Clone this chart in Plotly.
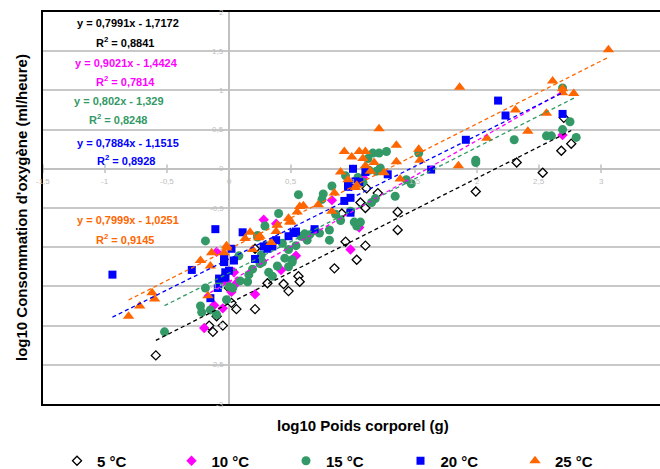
import plotly.graph_objects as go

# ---------------- data ----------------
series_names = ["5 °C", "10 °C", "15 °C", "20 °C", "25 °C"]

x5 = [-0.59, -0.16, -0.13, -0.10, -0.05, 0.00, 0.02, 0.06, 0.21, 0.21, 0.31, 0.44, 0.48, 0.56, 0.57,
      0.85, 0.91, 0.94, 1.03, 1.06, 1.10, 1.10, 1.11, 1.20, 1.36, 1.36, 1.99, 2.32, 2.53, 2.68, 2.70, 2.76]
y5 = [-2.38, -2.00, -2.08, -1.88, -2.00, -1.52, -1.71, -1.79, -1.79, -1.02, -1.46, -1.47, -1.56, -1.37, -1.44,
      -1.27, -0.57, -0.93, -1.16, -0.43, -0.98, -0.50, -0.25, -0.31, -0.55, -0.78, -0.29, 0.08, -0.05, 0.23, 0.65, 0.32]

x10 = [-0.20, -0.12, -0.10, -0.05, -0.02, 0.02, 0.04, 0.06, 0.21, 0.28, 0.38, 0.42, 0.54, 0.83, 0.98, 0.99,
       1.05, 1.08, 2.69]
y10 = [-2.03, -1.74, -1.06, -1.78, -1.44, -1.57, -1.32, -1.46, -1.60, -0.65, -0.70, -1.29, -1.11, -0.40, -1.03, -0.22,
       -0.75, -0.11, 0.43]

x15 = [-0.52, -0.19, -0.23, -0.22, -0.19, -0.15, -0.10, -0.08, -0.02, 0.00, 0.03, 0.08, 0.09, 0.15, 0.16, 0.19,
       0.23, 0.23, 0.25, 0.26, 0.27, 0.29, 0.30, 0.32, 0.35, 0.39, 0.40, 0.43, 0.45, 0.48, 0.48, 0.51, 0.51, 0.54,
       0.56, 0.58, 0.61, 0.63, 0.65, 0.69, 0.73, 0.76, 0.75, 0.81, 0.81, 0.83, 0.86, 0.90, 0.94, 0.98, 1.01, 1.03,
       1.04, 1.06, 1.08, 1.12, 1.13, 1.15, 1.16, 1.18, 1.19, 1.21, 1.22, 1.27, 1.34, 1.43, 1.47, 1.53, 1.99, 1.99,
       2.30, 2.56, 2.60, 2.69, 2.69, 2.75, 2.80]
y15 = [-2.08, -0.92, -1.75, -1.83, -1.52, -1.80, -1.86, -1.48, -1.67, -1.50, -1.52, -1.11, -1.43, -1.44, -1.35, -1.28,
       -0.85, -0.87, -1.21, -1.10, -1.19, -0.73, -0.98, -1.32, -1.37, -1.24, -0.57, -0.95, -1.14, -1.03, -1.25, -1.19, -1.16, -0.98,
       -0.33, -0.86, -0.83, -0.91, -0.84, -0.79, -0.82, -0.32, -0.39, -0.78, -0.91, -0.22, -0.58, -0.66, -0.09, -0.54, -0.68, -0.73,
       -0.11, -0.68, -0.17, 0.13, -0.02, -0.43, 0.20, -0.38, -0.03, 0.20, 0.01, 0.22, -0.35, -0.14, -0.19, 0.20, 0.11, 0.08,
       0.37, 0.42, 0.42, 0.50, 1.03, 0.60, 0.40]

x20 = [-0.94, -0.30, -0.15, -0.11, -0.09, -0.08, -0.04, -0.04, -0.03, -0.03, 0.00, 0.02, 0.04, 0.11, 0.21, 0.28,
       0.31, 0.35, 0.38, 0.48, 0.52, 0.54, 0.69, 0.93, 0.96, 0.96, 0.98, 0.98, 1.00, 1.02, 1.05, 1.10, 1.28, 1.63,
       1.91, 2.17, 2.23, 2.69]
y20 = [-1.35, -1.29, -1.65, -0.77, -1.52, -1.40, -1.15, -1.19, -1.32, -1.39, -1.30, -1.02, -1.17, -0.81, -1.15, -0.99,
       -1.02, -0.99, -0.91, -0.86, -0.82, -0.80, -0.77, -0.41, -0.21, -0.23, -0.56, -0.37, 0.00, -0.16, -0.17, -0.04, -0.07, -0.01,
       0.37, 0.87, 0.68, 0.70]

x25 = [-0.81, -0.72, -0.62, -0.60, -0.23, -0.17, -0.15, -0.14, -0.04, -0.02, -0.02, 0.13, 0.17, 0.19, 0.24, 0.25,
       0.34, 0.38, 0.39, 0.48, 0.49, 0.50, 0.55, 0.57, 0.60, 0.72, 0.83, 0.85, 0.90, 0.93, 0.96, 0.99, 1.02, 1.03,
       1.05, 1.08, 1.10, 1.10, 1.14, 1.17, 1.21, 1.25, 1.35, 1.35, 1.38, 1.53, 1.54, 1.85, 1.86, 2.08, 2.31, 2.41,
       2.56, 2.61, 2.69, 2.69, 2.78, 3.06]
y25 = [-1.88, -1.75, -1.58, -1.66, -1.17, -1.62, -1.24, -1.07, -1.07, -1.01, -0.98, -0.89, -0.81, -1.03, -0.88, -0.86,
       -0.94, -0.80, -0.72, -0.63, -0.68, -0.68, -0.55, -0.48, -0.47, -0.46, -0.54, -0.31, -0.04, 0.22, -0.14, 0.15, -0.24, -0.21,
       0.22, 0.13, 0.22, 0.04, -0.03, 0.08, 0.51, -0.05, 0.30, 0.09, -0.13, 0.25, 0.11, 0.04, 1.04, 0.39, 0.75, 0.48,
       0.71, 1.12, 1.02, 0.97, 0.96, 1.52]

slopes = [0.7991, 0.9021, 0.802, 0.7884, 0.7999]
intercepts = [-1.7172, -1.4424, -1.329, -1.1515, -1.0251]
r2_values = [0.8841, 0.7814, 0.8248, 0.8928, 0.9145]

x_ticks = [-1.5, -1, -0.5, 0, 0.5, 1, 1.5, 2, 2.5, 3]
y_ticks = [2, 1.5, 1, 0.5, 0, -0.5, -1, -1.5, -2, -2.5, -3]

x_title = "log10 Poids corporel (g)"
y_title = "log10 Consommation d'oxygène (ml/heure)"

# ---------------- styling ----------------
W, H = 660, 469
L, R, T, B = 43, 0, 12, 65
PW, PH = W - L - R, H - T - B
FONT = "Liberation Sans, Arial, sans-serif"
colors = ["#000000", "#FF00FF", "#339966", "#0000FF", "#FF6600"]
symbols = ["diamond", "diamond", "circle", "square", "triangle-up"]
sizes = [7, 8, 9, 8, 10]

xs = [x5, x10, x15, x20, x25]
ys = [y5, y10, y15, y20, y25]


def px_to_paper(px, py):
    return (px - L) / PW, (H - B - py) / PH


def fmt(v):
    return f"{v:g}".replace(".", ",")


fig = go.Figure()

# tick marks along the crossing axes
fig.add_trace(go.Scatter(x=x_ticks, y=[0] * len(x_ticks), mode="markers",
                         marker=dict(symbol="line-ns", size=6, line=dict(color="#c0c0c0", width=1.5)),
                         showlegend=False, hoverinfo="skip"))

for i in range(5):
    if i == 0:
        marker = dict(symbol=symbols[i], size=sizes[i], color="white",
                      line=dict(color="black", width=1.3))
    else:
        marker = dict(symbol=symbols[i], size=sizes[i], color=colors[i], line=dict(width=0))
    fig.add_trace(go.Scatter(x=xs[i], y=ys[i], mode="markers", name=f"<b>{series_names[i]}</b>",
                             marker=marker, cliponaxis=False))

for i in range(5):
    xmin, xmax = min(xs[i]), max(xs[i])
    fig.add_trace(go.Scatter(x=[xmin, xmax],
                             y=[slopes[i] * xmin + intercepts[i], slopes[i] * xmax + intercepts[i]],
                             mode="lines", line=dict(color=colors[i], width=1.3, dash="4px,3px"),
                             showlegend=False, hoverinfo="skip"))

annotations = []
# tick labels
for v in x_ticks:
    annotations.append(dict(x=v, y=0, xref="x", yref="y", text=fmt(v), showarrow=False,
                            xanchor="center", yanchor="middle",
                            yshift=-13, font=dict(family=FONT, size=8, color="#bdbdbd")))
for v in y_ticks:
    annotations.append(dict(x=0, y=v, xref="x", yref="y", text=fmt(v), showarrow=False,
                            xanchor="right", yanchor="middle", xshift=-3,
                            font=dict(family=FONT, size=8, color="#bdbdbd")))

# equations
eq_pos = [(128, 23, 125, 42), (127, 63, 125, 81), (119, 101, 118, 119), (128, 143, 126, 160), (128, 220, 125, 239)]
for i in range(5):
    ex, ey, rx, ry = eq_pos[i]
    sign = "-" if intercepts[i] < 0 else "+"
    t1 = f"<b>y = {fmt(slopes[i])}x {sign} {fmt(abs(intercepts[i]))}</b>"
    t2 = f"<b>R<sup>2</sup> = {fmt(r2_values[i])}</b>"
    a, b = px_to_paper(ex, ey)
    annotations.append(dict(x=a, y=b, xref="paper", yref="paper", text=t1, showarrow=False,
                            xanchor="center", yanchor="middle",
                            font=dict(family=FONT, size=11, color=colors[i])))
    a, b = px_to_paper(rx, ry)
    annotations.append(dict(x=a, y=b, xref="paper", yref="paper", text=t2, showarrow=False,
                            xanchor="center", yanchor="middle",
                            font=dict(family=FONT, size=11, color=colors[i])))

# axis titles
a, b = px_to_paper(363, 425)
annotations.append(dict(x=a, y=b, xref="paper", yref="paper", text=f"<b>{x_title}</b>", showarrow=False,
                        xanchor="center", yanchor="middle",
                        font=dict(family=FONT, size=15, color="black")))
a, b = px_to_paper(21, 208)
annotations.append(dict(x=a, y=b, xref="paper", yref="paper", text=f"<b>{y_title}</b>", showarrow=False,
                        xanchor="center", yanchor="middle",
                        textangle=-90, font=dict(family=FONT, size=15, color="black")))

lx, ly = px_to_paper(57, 461)

fig.update_layout(
    width=W, height=H,
    margin=dict(l=L, r=R, t=T, b=B, autoexpand=False),
    paper_bgcolor="white", plot_bgcolor="white",
    font=dict(family=FONT, color="black"),
    xaxis=dict(range=[-1.5, -1.5 + PW / 124.0], showgrid=False, zeroline=True, zerolinecolor="#c0c0c0",
               zerolinewidth=2, showticklabels=False, ticks="", showline=True, linecolor="black",
               linewidth=2, mirror=True),
    yaxis=dict(range=[-3, 2], tickvals=y_ticks, showgrid=True, gridcolor="#c8c8c8", gridwidth=2,
               zeroline=True, zerolinecolor="#c0c0c0", zerolinewidth=2, showticklabels=False, ticks="",
               showline=True, linecolor="black", linewidth=2, mirror=False),
    legend=dict(orientation="h", x=lx, y=ly, xanchor="left", yanchor="middle",
                entrywidth=69.5, entrywidthmode="pixels", font=dict(family=FONT, size=15, color="black"),
                bgcolor="rgba(0,0,0,0)", borderwidth=0, traceorder="normal"),
    annotations=annotations,
    showlegend=True,
)

fig.write_html("out.html", config={"displayModeBar": False},
               post_script="document.body.style.margin='0';document.body.style.padding='0';")
